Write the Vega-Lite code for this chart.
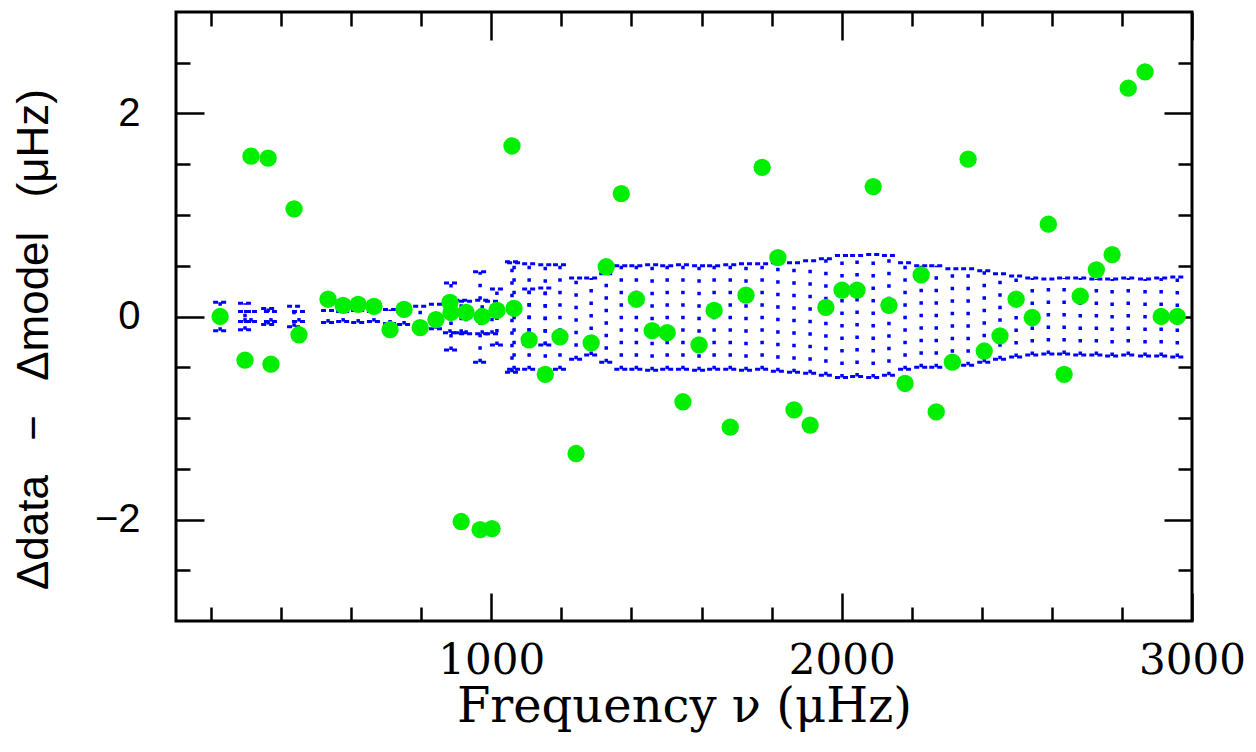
{
  "$schema": "https://vega.github.io/schema/vega-lite/v6.json",
  "width": 1016,
  "height": 609,
  "autosize": {"type": "none"},
  "padding": {"left": 176, "top": 12, "right": 64, "bottom": 131},
  "background": "white",
  "config": {
    "view": {"stroke": "black", "strokeWidth": 3},
    "axis": {"grid": false, "domain": false, "tickColor": "black", "tickWidth": 2.5, "labelColor": "black", "titleColor": "black", "labelFlush": false, "labelOverlap": false}
  },
  "datasets": {
    "points": [
      {"f":226,"d":0.00},{"f":297,"d":-0.43},{"f":314,"d":1.58},{"f":363,"d":1.56},{"f":371,"d":-0.47},
      {"f":437,"d":1.06},{"f":451,"d":-0.18},{"f":534,"d":0.17},{"f":577,"d":0.11},{"f":620,"d":0.12},
      {"f":665,"d":0.10},{"f":711,"d":-0.13},{"f":751,"d":0.07},{"f":797,"d":-0.11},{"f":842,"d":-0.03},
      {"f":882,"d":0.14},{"f":885,"d":0.04},{"f":914,"d":-2.02},{"f":928,"d":0.04},{"f":968,"d":-2.10},
      {"f":974,"d":0.00},{"f":1002,"d":-2.09},{"f":1016,"d":0.06},{"f":1059,"d":1.68},{"f":1065,"d":0.08},
      {"f":1108,"d":-0.23},{"f":1154,"d":-0.57},{"f":1196,"d":-0.20},{"f":1242,"d":-1.35},{"f":1285,"d":-0.26},
      {"f":1328,"d":0.49},{"f":1371,"d":1.21},{"f":1414,"d":0.17},{"f":1459,"d":-0.14},{"f":1502,"d":-0.16},
      {"f":1547,"d":-0.84},{"f":1593,"d":-0.28},{"f":1636,"d":0.06},{"f":1682,"d":-1.09},{"f":1727,"d":0.21},
      {"f":1773,"d":1.47},{"f":1818,"d":0.58},{"f":1864,"d":-0.92},{"f":1910,"d":-1.07},{"f":1955,"d":0.09},
      {"f":2001,"d":0.26},{"f":2044,"d":0.26},{"f":2090,"d":1.28},{"f":2135,"d":0.11},{"f":2181,"d":-0.66},
      {"f":2227,"d":0.41},{"f":2270,"d":-0.94},{"f":2316,"d":-0.45},{"f":2361,"d":1.55},{"f":2407,"d":-0.34},
      {"f":2452,"d":-0.19},{"f":2498,"d":0.17},{"f":2544,"d":-0.01},{"f":2590,"d":0.91},{"f":2635,"d":-0.57},
      {"f":2681,"d":0.20},{"f":2727,"d":0.46},{"f":2772,"d":0.61},{"f":2818,"d":2.25},{"f":2866,"d":2.41},
      {"f":2912,"d":0.00},{"f":2958,"d":0.00}
    ],
    "band": [
      {"f":226,"lo":-0.14,"hi":0.14},{"f":297,"lo":-0.13,"hi":0.13},{"f":297,"lo":-0.05,"hi":0.05},
      {"f":314,"lo":-0.05,"hi":0.05},{"f":363,"lo":-0.08,"hi":0.08},{"f":371,"lo":-0.05,"hi":0.05},
      {"f":437,"lo":-0.10,"hi":0.10},{"f":451,"lo":-0.05,"hi":0.05},{"f":534,"lo":-0.06,"hi":0.06},
      {"f":577,"lo":-0.05,"hi":0.05},{"f":620,"lo":-0.06,"hi":0.06},{"f":665,"lo":-0.05,"hi":0.05},
      {"f":711,"lo":-0.07,"hi":0.07},{"f":751,"lo":-0.08,"hi":0.08},{"f":797,"lo":-0.10,"hi":0.10},
      {"f":842,"lo":-0.12,"hi":0.12},{"f":882,"lo":-0.16,"hi":0.16},{"f":885,"lo":-0.33,"hi":0.33},
      {"f":914,"lo":-0.16,"hi":0.16},{"f":928,"lo":-0.17,"hi":0.15},{"f":968,"lo":-0.45,"hi":0.44},
      {"f":974,"lo":-0.17,"hi":0.16},{"f":1002,"lo":-0.17,"hi":0.15},{"f":1016,"lo":-0.28,"hi":0.27},
      {"f":1059,"lo":-0.55,"hi":0.54},{"f":1065,"lo":-0.52,"hi":0.53},{"f":1108,"lo":-0.52,"hi":0.52},
      {"f":1108,"lo":-0.27,"hi":0.27},{"f":1154,"lo":-0.53,"hi":0.51},{"f":1154,"lo":-0.28,"hi":0.28},
      {"f":1196,"lo":-0.52,"hi":0.51},{"f":1242,"lo":-0.42,"hi":0.38},{"f":1285,"lo":-0.38,"hi":0.38},
      {"f":1328,"lo":-0.45,"hi":0.42},{"f":1371,"lo":-0.52,"hi":0.5},{"f":1414,"lo":-0.52,"hi":0.5},
      {"f":1459,"lo":-0.53,"hi":0.51},{"f":1502,"lo":-0.52,"hi":0.5},{"f":1547,"lo":-0.52,"hi":0.51},
      {"f":1593,"lo":-0.53,"hi":0.5},{"f":1636,"lo":-0.52,"hi":0.5},{"f":1682,"lo":-0.52,"hi":0.51},
      {"f":1727,"lo":-0.53,"hi":0.52},{"f":1773,"lo":-0.52,"hi":0.52},{"f":1818,"lo":-0.54,"hi":0.53},
      {"f":1864,"lo":-0.55,"hi":0.53},{"f":1910,"lo":-0.56,"hi":0.55},{"f":1955,"lo":-0.58,"hi":0.57},
      {"f":2001,"lo":-0.6,"hi":0.6},{"f":2044,"lo":-0.59,"hi":0.6},{"f":2090,"lo":-0.6,"hi":0.61},
      {"f":2135,"lo":-0.58,"hi":0.6},{"f":2181,"lo":-0.52,"hi":0.53},{"f":2227,"lo":-0.5,"hi":0.5},
      {"f":2270,"lo":-0.5,"hi":0.5},{"f":2316,"lo":-0.48,"hi":0.47},{"f":2361,"lo":-0.48,"hi":0.47},
      {"f":2407,"lo":-0.45,"hi":0.45},{"f":2452,"lo":-0.42,"hi":0.42},{"f":2498,"lo":-0.4,"hi":0.4},
      {"f":2544,"lo":-0.38,"hi":0.38},{"f":2590,"lo":-0.37,"hi":0.37},{"f":2635,"lo":-0.37,"hi":0.38},
      {"f":2681,"lo":-0.38,"hi":0.38},{"f":2727,"lo":-0.38,"hi":0.37},{"f":2772,"lo":-0.39,"hi":0.37},
      {"f":2818,"lo":-0.38,"hi":0.38},{"f":2866,"lo":-0.39,"hi":0.37},{"f":2912,"lo":-0.39,"hi":0.38},
      {"f":2958,"lo":-0.4,"hi":0.39}
    ]
  },
  "resolve": {"axis": {"x": "independent", "y": "independent"}},
  "layer": [
    {
      "data": {"name": "band"},
      "mark": {"type": "rule", "color": "#0000ff", "strokeWidth": 3.5, "strokeDash": [3.5, 9]},
      "encoding": {
        "x": {"field": "f", "type": "quantitative", "scale": {"domain": [100, 3000], "nice": false, "zero": false},
          "axis": {"orient": "bottom", "values": [200,400,600,800,1000,1200,1400,1600,1800,2000,2200,2400,2600,2800,3000],
            "labelExpr": "datum.value % 1000 === 0 ? '' + datum.value : ''",
            "tickSize": {"condition": {"test": "datum.value % 1000 === 0", "value": -28}, "value": -14},
            "labelFont": "DejaVu Serif", "labelFontSize": 42, "labelPadding": 47,
            "title": "Frequency ν (μHz)", "titleFont": "DejaVu Serif", "titleFontSize": 48, "titleFontWeight": "normal",
            "titleY": 100, "titleBaseline": "alphabetic"}},
        "y": {"field": "lo", "type": "quantitative", "scale": {"domain": [-3, 3], "nice": false, "zero": false},
          "axis": {"orient": "left", "values": [-2.5,-2,-1.5,-1,-0.5,0,0.5,1,1.5,2,2.5],
            "labelExpr": "datum.value === 0 ? '0' : datum.value === 2 ? '2' : datum.value === -2 ? '\u22122' : ''",
            "tickSize": {"condition": {"test": "datum.value === 0 || datum.value === 2 || datum.value === -2", "value": -28}, "value": -14},
            "labelFont": "Liberation Sans", "labelFontSize": 40, "labelPadding": 64,
            "title": "\u0394data\u2002\u00a0\u2212\u2002\u00a0\u0394model\u2002\u00a0(\u03bcHz)", "titleFont": "Liberation Sans", "titleFontSize": 44, "titleFontWeight": "normal",
            "titlePadding": 38, "titleY": 327}},
        "y2": {"field": "hi"}
      }
    },
    {
      "data": {"name": "band"},
      "mark": {"type": "rule", "color": "#0000ff", "strokeWidth": 3, "strokeDash": [5, 3], "xOffset": -7, "x2Offset": 7},
      "encoding": {
        "x": {"field": "f", "type": "quantitative", "axis": null},
        "x2": {"field": "f"},
        "y": {"field": "hi", "type": "quantitative", "axis": null}
      }
    },
    {
      "data": {"name": "band"},
      "mark": {"type": "rule", "color": "#0000ff", "strokeWidth": 3, "strokeDash": [5, 3], "xOffset": -7, "x2Offset": 7},
      "encoding": {
        "x": {"field": "f", "type": "quantitative", "axis": null},
        "x2": {"field": "f"},
        "y": {"field": "lo", "type": "quantitative", "axis": null}
      }
    },
    {
      "data": {"name": "points"},
      "mark": {"type": "point", "filled": true, "opacity": 1, "color": "#00ee00", "size": 300},
      "encoding": {
        "x": {"field": "f", "type": "quantitative",
          "axis": {"orient": "top", "values": [200,400,600,800,1000,1200,1400,1600,1800,2000,2200,2400,2600,2800,3000],
            "labels": false, "title": null,
            "tickSize": {"condition": {"test": "datum.value % 1000 === 0", "value": -28}, "value": -14}}},
        "y": {"field": "d", "type": "quantitative",
          "axis": {"orient": "right", "values": [-2.5,-2,-1.5,-1,-0.5,0,0.5,1,1.5,2,2.5],
            "labels": false, "title": null,
            "tickSize": {"condition": {"test": "datum.value === 0 || datum.value === 2 || datum.value === -2", "value": -28}, "value": -14}}}
      }
    }
  ]
}
